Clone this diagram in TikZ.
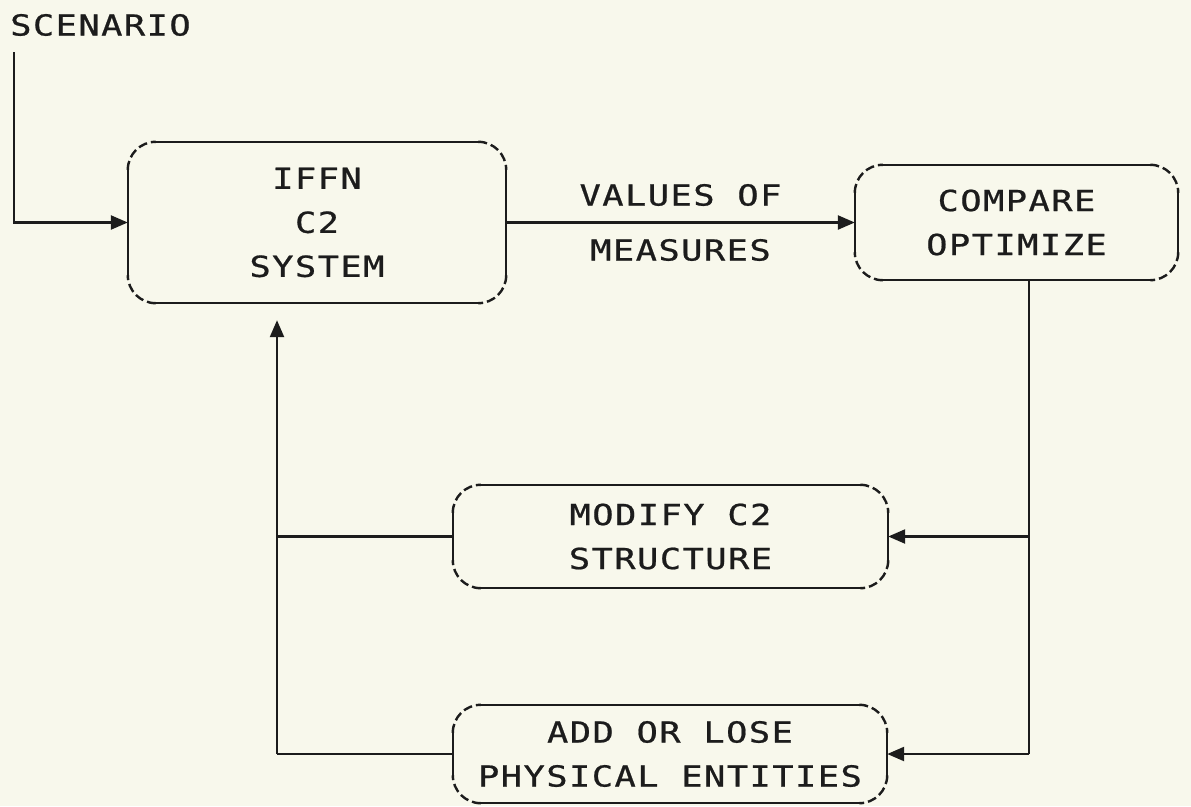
\documentclass[tikz,border=0pt]{standalone}
\usepackage{fontspec}
\usetikzlibrary{arrows.meta}
% wide, evenly spaced plotter-style lettering
\newfontfamily\plotfont{DejaVu Sans Mono}[FakeStretch=1.22,LetterSpace=5,FakeBold=0.7]
\definecolor{paper}{RGB}{248,248,236}
\definecolor{ink}{RGB}{28,28,28}
% outline of a block: solid edges, pen-plotter dashed corners
\newcommand\plotoutline[1]{%
  \draw[wire] ([xshift=28pt]#1.north west) -- ([xshift=-28pt]#1.north east);
  \draw[wire] ([yshift=-28pt]#1.north east) -- ([yshift=28pt]#1.south east);
  \draw[wire] ([xshift=-28pt]#1.south east) -- ([xshift=28pt]#1.south west);
  \draw[wire] ([yshift=28pt]#1.south west) -- ([yshift=-28pt]#1.north west);
  \draw[cornerdash] ([xshift=-28pt]#1.north east) -- (#1.north east) -- ([yshift=-28pt]#1.north east);
  \draw[cornerdash] ([yshift=28pt]#1.south east) -- (#1.south east) -- ([xshift=-28pt]#1.south east);
  \draw[cornerdash] ([xshift=28pt]#1.south west) -- (#1.south west) -- ([yshift=28pt]#1.south west);
  \draw[cornerdash] ([yshift=-28pt]#1.north west) -- (#1.north west) -- ([xshift=28pt]#1.north west);
}
\begin{document}
\begin{tikzpicture}[x=1pt,y=-1pt,
  lettering/.style={font=\plotfont\fontsize{29}{44}\selectfont, text=ink},
  block/.style={align=center, inner sep=0pt, lettering},
  wire/.style={draw=ink, line width=2.4pt},
  cornerdash/.style={wire, rounded corners=28pt, dash pattern=on 9pt off 4pt},
  arr/.style={wire, -{Triangle[length=17pt,width=14pt]}}]
  % page
  \fill[paper] (0,0) rectangle (1191,806);

  % blocks
  \node[block, minimum width=378pt, minimum height=161pt] (iffn) at (317,222.5)
       {IFFN\\C2\\SYSTEM};
  \node[block, minimum width=323pt, minimum height=115pt] (cmp) at (1016.5,222.5)
       {COMPARE\\OPTIMIZE};
  \node[block, minimum width=435pt, minimum height=103pt] (mod) at (670.5,536.5)
       {MODIFY C2\\STRUCTURE};
  \node[block, minimum width=434pt, minimum height=98pt] (add) at (670,754)
       {ADD OR LOSE\\PHYSICAL ENTITIES};
  \plotoutline{iffn}
  \plotoutline{cmp}
  \plotoutline{mod}
  \plotoutline{add}

  % input
  \node[lettering, anchor=west, inner sep=0pt] (scen) at (10,25) {SCENARIO};
  \coordinate (s0) at (14,52);
  \draw[arr] (s0) |- (iffn.west);

  % measures to comparison
  \draw[arr] (iffn.east) -- (cmp.west)
     node[pos=0.5, lettering, above=12pt] (vo) {VALUES OF}
     node[pos=0.5, lettering, below=12pt] (ms) {MEASURES};

  % feedback: right trunk
  \coordinate (rj) at (1029,536.5);
  \coordinate (rb) at (1029,754);
  \draw[wire] (cmp.south -| rb) -- (rb);
  \draw[arr] (rj) -- (mod.east);
  \draw[arr] (rb) -- (add.east);

  % feedback: left trunk
  \coordinate (lj) at (277,536.5);
  \coordinate (lb) at (277,754);
  \draw[wire] (mod.west) -- (lj);
  \draw[wire] (add.west) -- (lb);
  \draw[arr, shorten >=17pt] (lb) -- (iffn.south -| lb);
\end{tikzpicture}
\end{document}
